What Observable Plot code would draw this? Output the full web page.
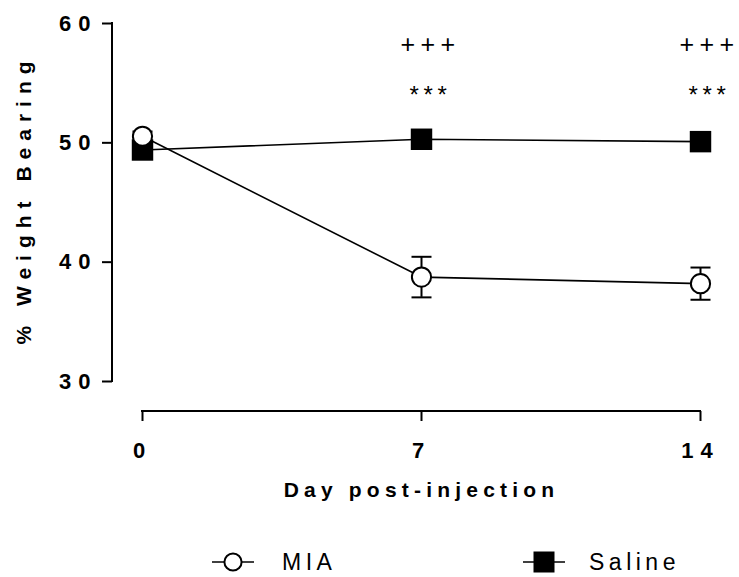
<!DOCTYPE html>
<html>
<head>
<meta charset="utf-8">
<script src="https://cdn.jsdelivr.net/npm/d3@7"></script>
<script src="https://cdn.jsdelivr.net/npm/@observablehq/plot@0.6"></script>
<style>
  body { margin: 0; background: #fff; }
  svg { display: block; }
</style>
</head>
<body>
<div id="chart"></div>
<script>
// ---- data ----
const days = [0, 7, 14];
const groups = ["MIA", "Saline"];
const miaMean = [50.55, 38.75, 38.2];
const miaSem = [0.4, 1.7, 1.35];
const salineMean = [49.4, 50.3, 50.1];
const yTicks = [30, 40, 50, 60];
const xTicks = [0, 7, 14];
const annotDays = [7, 14];
const plusText = "+++";
const starText = "***";
const plusY = 58.2;
const starY = 54.0;
const yLabel = "% Weight Bearing";
const xLabel = "Day post-injection";

// ---- tables built from arrays ----
const mia = days.map((d, i) => ({day: d, value: miaMean[i], lo: miaMean[i] - miaSem[i], hi: miaMean[i] + miaSem[i], group: groups[0]}));
const saline = days.map((d, i) => ({day: d, value: salineMean[i], group: groups[1]}));
const caps = mia.flatMap(r => [{day: r.day, value: r.lo}, {day: r.day, value: r.hi}]);
const annots = annotDays.map(d => ({day: d}));

const font = "'Liberation Sans', Arial, Helvetica, sans-serif";
const capSymbol = {
  draw(ctx, size) { const r = Math.sqrt(size / Math.PI); ctx.moveTo(-r, 0); ctx.lineTo(r, 0); }
};

function yAxisLine(index, scales, values, dimensions) {
  const x = dimensions.marginLeft;
  return d3.create("svg:line")
    .attr("x1", x).attr("x2", x)
    .attr("y1", scales.y(yTicks[0])).attr("y2", scales.y(yTicks[yTicks.length - 1]))
    .attr("stroke", "black").attr("stroke-width", 2).attr("stroke-linecap", "square")
    .node();
}
function xAxisLine(index, scales, values, dimensions) {
  const y = dimensions.height - dimensions.marginBottom;
  return d3.create("svg:line")
    .attr("x1", scales.x(xTicks[0])).attr("x2", scales.x(xTicks[xTicks.length - 1]))
    .attr("y1", y).attr("y2", y)
    .attr("stroke", "black").attr("stroke-width", 2).attr("stroke-linecap", "square")
    .node();
}

const plot = Plot.plot({
  width: 739,
  height: 530,
  marginLeft: 112,
  marginRight: 39,
  marginTop: 23,
  marginBottom: 119,
  style: {fontFamily: font, background: "white", color: "black", overflow: "visible"},
  x: {domain: [0, 14], insetLeft: 30},
  y: {domain: [30, 60], insetBottom: 30},
  marks: [
    yAxisLine,
    xAxisLine,
    Plot.axisY(yTicks, {tickSize: 10, tickPadding: 5, fontSize: 22, fontWeight: "bold", strokeWidth: 2, label: null}),
    Plot.axisX(xTicks, {tickSize: 10, tickPadding: 21, fontSize: 22, fontWeight: "bold", strokeWidth: 2, label: null}),
    Plot.text([yLabel], {text: d => d, y: 45, frameAnchor: "left", textAnchor: "middle", dx: -88, dy: -3, rotate: -90, fontSize: 21, fontWeight: "bold"}),
    Plot.text([xLabel], {text: d => d, x: 7, frameAnchor: "bottom", textAnchor: "middle", dy: 85, fontSize: 21, fontWeight: "bold"}),
    Plot.line([...mia, ...saline], {x: "day", y: "value", z: "group", stroke: "black", strokeWidth: 1.6}),
    Plot.ruleX(mia, {x: "day", y1: "lo", y2: "hi", stroke: "black", strokeWidth: 2}),
    Plot.dot(caps, {x: "day", y: "value", symbol: capSymbol, r: 10, stroke: "black", strokeWidth: 2, fill: "none"}),
    Plot.dot(saline, {x: "day", y: "value", symbol: "square", r: 12.1, fill: "black", stroke: "none"}),
    Plot.dot(mia, {x: "day", y: "value", symbol: "circle", r: 9.6, fill: "white", stroke: "black", strokeWidth: 2}),
    Plot.text(annots, {x: "day", y: () => plusY, text: () => plusText, dx: 9, fontSize: 25}),
    Plot.text(annots, {x: "day", y: () => starY, text: () => starText, dx: 9, fontSize: 24})
  ]
});

const s = d3.select(plot);
s.selectAll('g[aria-label="y-axis tick label"] text').style("letter-spacing", "7px");
s.selectAll('g[aria-label="x-axis tick label"] text').style("letter-spacing", "7px");
const spacingByText = new Map([
  [yLabel, "7px"],
  [xLabel, "5.2px"],
  [plusText, "5.4px"],
  [starText, "4.7px"]
]);
s.selectAll("text").each(function () {
  const sp = spacingByText.get(this.textContent);
  if (sp) d3.select(this).style("letter-spacing", sp);
});

document.getElementById("chart").appendChild(plot);

// ---- legend below the plot ----
const legendItems = [
  {label: groups[0], symbol: "circle", sx: 233, tx: 282},
  {label: groups[1], symbol: "square", sx: 544, tx: 589}
];
const lg = d3.create("svg").attr("width", 739).attr("height", 47)
  .style("font-family", font);
const cy = 32;
for (const it of legendItems) {
  lg.append("line").attr("x1", it.sx - 21).attr("x2", it.sx + 21).attr("y1", cy).attr("y2", cy)
    .attr("stroke", "black").attr("stroke-width", 1.6);
  if (it.symbol === "circle") {
    lg.append("circle").attr("cx", it.sx).attr("cy", cy).attr("r", 8.6)
      .attr("fill", "white").attr("stroke", "black").attr("stroke-width", 2);
  } else {
    lg.append("rect").attr("x", it.sx - 10.5).attr("y", cy - 10.5).attr("width", 21).attr("height", 21)
      .attr("fill", "black");
  }
  lg.append("text").attr("x", it.tx).attr("y", cy + 8.2)
    .attr("font-size", 23).attr("fill", "black").style("letter-spacing", "4.5px")
    .text(it.label);
}
document.getElementById("chart").appendChild(lg.node());
</script>
</body>
</html>
